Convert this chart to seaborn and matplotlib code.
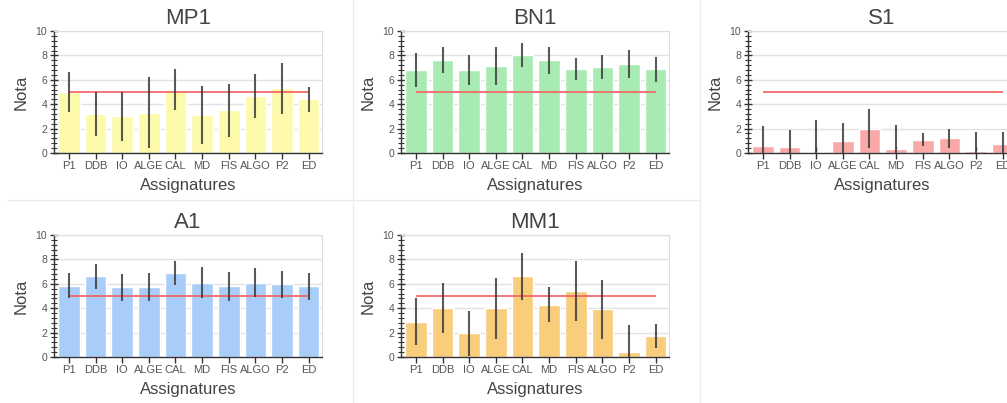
import matplotlib
matplotlib.use("Agg")
import matplotlib.pyplot as plt
import seaborn as sns
from matplotlib.lines import Line2D
from matplotlib.ticker import MultipleLocator

# Subjects (x categories), shared by every group
subjects = ["P1", "DDB", "IO", "ALGE", "CAL", "MD", "FIS", "ALGO", "P2", "ED"]

# Mean grade per subject and its spread, one pair per group
mp1_mean = [5.0, 3.2, 3.0, 3.3, 5.2, 3.1, 3.5, 4.7, 5.3, 4.4]
mp1_err = [1.65, 1.8, 2.0, 2.9, 1.65, 2.4, 2.15, 1.8, 2.1, 1.05]

bn1_mean = [6.8, 7.6, 6.8, 7.1, 8.05, 7.6, 6.85, 7.05, 7.3, 6.85]
bn1_err = [1.4, 1.05, 1.25, 1.55, 1.0, 1.1, 0.9, 1.0, 1.15, 1.0]

s1_mean = [0.6, 0.5, 0.1, 1.0, 2.0, 0.3, 1.1, 1.2, 0.2, 0.7]
s1_err = [1.65, 1.4, 2.6, 1.5, 1.6, 2.0, 0.5, 0.8, 1.55, 1.0]

a1_mean = [5.85, 6.6, 5.7, 5.7, 6.9, 6.1, 5.8, 6.1, 5.95, 5.8]
a1_err = [1.0, 1.05, 1.1, 1.15, 1.0, 1.25, 1.2, 1.2, 1.1, 1.1]

mm1_mean = [2.9, 4.0, 1.95, 4.0, 6.6, 4.3, 5.4, 3.9, 0.45, 1.7]
mm1_err = [1.9, 2.05, 1.85, 2.5, 1.9, 1.45, 2.45, 2.4, 2.15, 1.0]

group_names = ["MP1", "BN1", "S1", "A1", "MM1"]
group_colors = ["#fefaab", "#a8ebb2", "#f9aaa8", "#a8cdf8", "#f8cd7c"]
pass_mark = 5

sns.set_theme(style="whitegrid")
plt.rcParams["font.family"] = ["Liberation Sans", "DejaVu Sans"]

W, H = 1007, 403
fig = plt.figure(figsize=(W / 100, H / 100), dpi=100)

# axes boxes in pixels: left, top, width, height
boxes = [(54, 31), (401, 31), (748, 31), (54, 235), (401, 235)]
ax_w, ax_h = 268, 122

series = [
    (mp1_mean, mp1_err),
    (bn1_mean, bn1_err),
    (s1_mean, s1_err),
    (a1_mean, a1_err),
    (mm1_mean, mm1_err),
]

text_col = "#444444"
for (left, top), name, color, (means, errs) in zip(boxes, group_names, group_colors, series):
    ax = fig.add_axes([left / W, (H - top - ax_h) / H, ax_w / W, ax_h / H])
    sns.barplot(x=subjects, y=means, color=color, saturation=1, width=0.81,
                ax=ax, zorder=2)
    positions = range(len(subjects))
    ax.hlines(pass_mark, 0, len(subjects) - 1, color="#f26666", lw=1.4,
              alpha=0.9, zorder=3)
    ax.errorbar(list(positions), means, yerr=errs, fmt="none",
                ecolor="#3c3c3c", elinewidth=1.5, capsize=0, alpha=0.85, zorder=4)

    ax.set_ylim(0, 10)
    ax.set_xlim(-0.56, len(subjects) - 0.5)
    ax.yaxis.set_major_locator(MultipleLocator(2))
    ax.yaxis.set_minor_locator(MultipleLocator(0.4))
    ax.grid(axis="y", color="#e2e2e2", lw=1.0, zorder=0)
    ax.grid(axis="x", visible=False)
    ax.set_axisbelow(True)

    for side in ("top", "right"):
        ax.spines[side].set_color("#dddddd")
        ax.spines[side].set_linewidth(0.8)
    for side in ("left", "bottom"):
        ax.spines[side].set_color("#333333")
        ax.spines[side].set_linewidth(1.0)

    ax.tick_params(axis="y", which="major", direction="inout", length=6,
                   width=1, color="#333333", labelsize=7.5, labelcolor="#555555",
                   pad=2, left=True)
    ax.tick_params(axis="y", which="minor", direction="inout", length=4,
                   width=0.8, color="#333333", left=True)
    ax.tick_params(axis="x", which="major", direction="inout", length=9,
                   width=1, color="#333333", labelsize=8, labelcolor="#555555",
                   pad=1.5, bottom=True)

    ax.set_title(name, fontsize=16, color=text_col, pad=5)
    ax.set_ylabel("Nota", fontsize=12, color=text_col, labelpad=5)
    ax.set_xlabel("Assignatures", fontsize=12, color=text_col, labelpad=5)

# faint card separators
sep = "#ececec"
fig.add_artist(Line2D([353 / W, 353 / W], [0, 1], color=sep, lw=1))
fig.add_artist(Line2D([700 / W, 700 / W], [0, 1], color=sep, lw=1))
fig.add_artist(Line2D([8 / W, 700 / W], [1 - 200 / H, 1 - 200 / H], color=sep, lw=1))

fig.savefig("out.png", dpi=100)
